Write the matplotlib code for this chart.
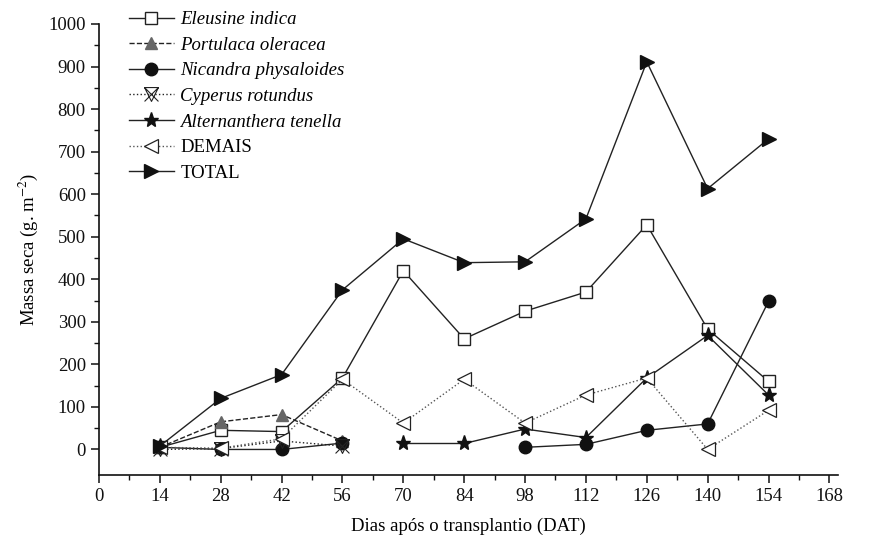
import numpy as np
import matplotlib.pyplot as plt
from matplotlib.path import Path

plt.rcParams['font.family'] = ['Liberation Serif', 'DejaVu Serif']
plt.rcParams['mathtext.fontset'] = 'stix'

dias = [14, 28, 42, 56, 70, 84, 98, 112, 126, 140, 154]
nan = np.nan

eleusine = [5, 45, 42, 168, 420, 260, 325, 370, 528, 283, 160]
portulaca = [5, 65, 82, 20, nan, nan, nan, nan, nan, nan, nan]
nicandra = [5, 0, 0, 15, nan, nan, 5, 12, 45, 60, 348]
cyperus = [0, 2, 20, 8, nan, nan, nan, nan, nan, nan, nan]
alternanthera = [8, nan, nan, nan, 14, 14, 48, 28, 168, 268, 128]
demais = [5, 3, 25, 165, 62, 165, 62, 128, 168, 0, 92]
total = [8, 120, 176, 375, 495, 439, 441, 542, 911, 613, 730]

# triangulo invertido com um X por cima
verts = [(-1, 1), (1, 1), (0, -1), (-1, 1),
         (-1, -1), (1, 1), (-1, 1), (1, -1)]
codes = [Path.MOVETO, Path.LINETO, Path.LINETO, Path.CLOSEPOLY,
         Path.MOVETO, Path.LINETO, Path.MOVETO, Path.LINETO]
marca_x = Path(verts, codes)

fig = plt.figure(figsize=(8.73, 5.4), dpi=100)
ax = fig.add_axes([0.1134, 0.1204, 0.8466, 0.8352])

lw = 1.0
ax.plot(dias, eleusine, '-', color='#222222', lw=lw, marker='s', ms=8,
        mfc='white', mec='#222222', mew=1.0, label='Eleusine indica')
ax.plot(dias, portulaca, '--', color='#222222', lw=lw, marker='^', ms=9,
        mfc='#666666', mec='#666666', label='Portulaca oleracea')
ax.plot(dias, nicandra, '-', color='#222222', lw=lw, marker='o', ms=9,
        mfc='#111111', mec='#111111', label='Nicandra physaloides')
ax.plot(dias, cyperus, ':', color='#222222', lw=lw, marker=marca_x, ms=10,
        mfc='none', mec='#222222', mew=0.8, label='Cyperus rotundus')
ax.plot(dias, alternanthera, '-', color='#222222', lw=lw, marker='*', ms=11,
        mfc='#111111', mec='#111111', label='Alternanthera tenella')
ax.plot(dias, demais, ':', color='#555555', lw=lw, marker='<', ms=10,
        mfc='white', mec='#222222', mew=0.9, label='DEMAIS')
ax.plot(dias, total, '-', color='#222222', lw=lw, marker='>', ms=10,
        mfc='#111111', mec='#111111', label='TOTAL')

ax.set_xlim(0, 170)
ax.set_ylim(-60, 1000)
ax.set_xticks(np.arange(0, 169, 14))
ax.set_xticks(np.arange(7, 169, 14), minor=True)
ax.set_yticks(np.arange(0, 1001, 100))
ax.set_yticks(np.arange(50, 1000, 100), minor=True)

for lado in ['top', 'right']:
    ax.spines[lado].set_visible(False)
for lado in ['left', 'bottom']:
    ax.spines[lado].set_linewidth(1.2)
    ax.spines[lado].set_color('#111111')
ax.spines['left'].set_bounds(-60, 1000)

ax.tick_params(axis='both', which='major', direction='out', length=6,
               width=1.1, labelsize=13.5, colors='#111111')
ax.tick_params(axis='both', which='minor', direction='out', length=3.5,
               width=1.0, colors='#111111')

ax.set_xlabel('Dias após o transplantio (DAT)', fontsize=13.5, labelpad=9)
ax.set_ylabel('Massa seca (g. m$^{-2}$)', fontsize=13.5, labelpad=6)

leg = ax.legend(loc='upper left', bbox_to_anchor=(0.03, 1.045), frameon=False,
                fontsize=13.5, handlelength=2.4, handletextpad=0.35,
                labelspacing=0.45, borderaxespad=0.0)
for txt in leg.get_texts()[:5]:
    txt.set_fontstyle('italic')

fig.savefig('out.png', dpi=100)
